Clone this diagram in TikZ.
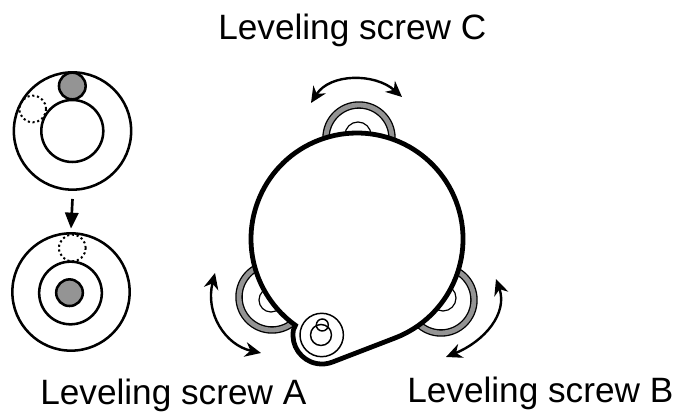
\documentclass[tikz,border=0pt]{standalone}
\usepackage{fontspec}
\setmainfont{Liberation Sans}
\usetikzlibrary{arrows.meta}

\tikzset{
  bubble/.style={draw,circle,inner sep=0,outer sep=0,line width=1.9pt},
  ball/.style={bubble,fill=black!42,minimum size=20pt},
  ghost/.style={draw,circle,inner sep=0,outer sep=0,line width=1.5pt,dash pattern=on 1.6pt off 2pt,minimum size=20pt},
  turn/.style={line width=1.8pt,{Stealth[length=12pt,width=11pt]}-{Stealth[length=12pt,width=11pt]}},
  thinring/.style={line width=0.9pt},
  screwlabel/.style={anchor=base west,inner sep=0,font=\fontsize{26.4pt}{30pt}\selectfont}
}

\begin{document}
\begin{tikzpicture}[x=0.75pt,y=0.75pt]
\useasboundingbox (0,0) rectangle (676,413);

\node [bubble,minimum size=88pt] (upper)  at (72.5,282) {};
\node [bubble,minimum size=46.5pt] (upperin) at (72.3,282) {};
\node [ball]  (upperball)  at (72.3,327) {};
\node [ghost] (upperghost) at (32.7,304) {};

\node [bubble,minimum size=88pt] (lower)  at (71,121) {};
\node [bubble,minimum size=47pt] (lowerin) at (70.5,120) {};
\node [ball]  (lowerball)  at (69.5,120.3) {};
\node [ghost] (lowerghost) at (72.3,165) {};

\draw [line width=2pt,-{Stealth[length=12pt,width=10pt,inset=0pt]}]
    ([yshift=-7pt]upper.south) -- ([yshift=3.5pt]lower.north);

% the three screws, the body hides what it covers
\foreach \cx/\cy/\sx/\sy/\sr in {272/116/271/113/12, 441/113/443/115/13, 359/275/358/278/13} {
  \draw [line width=5.6pt] (\cx,\cy) circle [radius=33];
  \draw [line width=3.6pt,black!42] (\cx,\cy) circle [radius=33];
  \draw [thinring] (\sx,\sy) circle [radius=\sr];
}

\draw [line width=3.6pt,fill=white]
    (395,75) arc [start angle=291,end angle=594.5,radius=106]
    -- (293.4,83) arc [start angle=170,end angle=291,radius=29] -- cycle;

\draw [line width=1.1pt] (321.7,78) circle [radius=21.7];
\draw [line width=1.1pt] (321,78) circle [radius=10.5];
\draw [line width=1.1pt] (322.3,88) circle [radius=6];

\draw [turn] (311,310) .. controls (330,340) and (375,340) .. (402,316);
\draw [turn] (215,140) .. controls (205,100) and (225,68) .. (261,60);
\draw [turn] (496,134) .. controls (508,100) and (485,72) .. (446,56);

\node [screwlabel] (labelC) at (218,373.5) {Leveling screw C};
\node [screwlabel] (labelA) at (40,8) {Leveling screw A};
\node [screwlabel] (labelB) at (407,10.5) {Leveling screw B};
\end{tikzpicture}
\end{document}
